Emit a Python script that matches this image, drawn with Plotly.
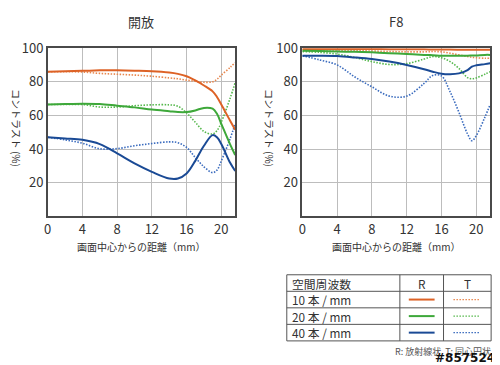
import plotly.graph_objects as go

# ---- data ----
dist = [0, 2, 4, 6, 8, 10, 12, 14, 15, 16, 17, 18, 19, 19.5, 20, 21, 21.6]

open_10R = [86, 86.3, 86.5, 86.8, 86.8, 86.6, 86.3, 85.5, 84.7, 83.3, 80.8, 77.8, 74.3, 71, 66.5, 57, 51.5]
open_10T = [86, 86, 85.8, 85, 84.5, 84, 83.3, 82.3, 81.8, 81, 80.3, 79.7, 80, 81.5, 84, 88.5, 91.5]
open_20R = [66.5, 66.8, 67, 66.8, 65.8, 64.8, 63.5, 62.5, 62, 62, 63, 64.5, 64, 61, 55, 43, 36.5]
open_20T = [66.5, 66.5, 66.5, 65, 65, 65.8, 66.3, 66.3, 65.5, 61.5, 56, 50.5, 49, 51, 56, 70, 79.5]
open_40R = [47, 46.3, 45.5, 43, 37.5, 31.5, 26.5, 22.5, 22.5, 25.5, 33, 42, 48.3, 47, 43, 32, 27]
open_40T = [47, 45.5, 43.5, 40.2, 40.3, 42, 43.3, 44.3, 43.8, 41, 35, 29.5, 26, 27.5, 33, 46, 55]

f8_10R = [99.5, 99.5, 99.5, 99.5, 99.5, 99.4, 99.3, 99.3, 99.2, 99.2, 99.2, 99.1, 99, 99, 99, 99, 99]
f8_10T = [99, 99, 98.8, 98.5, 98.3, 98, 97.8, 97.8, 98, 97.8, 97, 96, 95, 94.6, 94.3, 94, 94]
f8_20R = [98.5, 98.3, 98, 97.8, 97.5, 97, 96.5, 96, 95.8, 95.5, 95.5, 95.5, 95.5, 95.6, 95.7, 96, 96]
f8_20T = [98, 97.5, 96.5, 94.5, 92, 90.3, 90.8, 93.5, 95, 94.3, 92, 88, 82.5, 81.8, 82.3, 84.5, 86]
f8_40R = [95.5, 95.5, 95.3, 94.5, 93.5, 92, 90, 87.5, 86, 84.8, 84.5, 85, 87, 89, 89.8, 90.5, 91]
f8_40T = [95.5, 93, 90, 83, 77, 71.5, 71.5, 79, 83.8, 83.5, 74, 62, 49, 45, 48, 59, 66.5]

panel_titles = ["開放", "F8"]
x_ticks = [0, 4, 8, 12, 16, 20]
y_ticks = [20, 40, 60, 80, 100]
legend_rows = ["10 本 / mm", "20 本 / mm", "40 本 / mm"]

# ---- styles ----
W, H = 500, 365
OFF = 8  # page body margin
FONT = "Noto Sans CJK JP, Noto Sans, sans-serif"
colors_solid = ["#DD6226", "#3EA83A", "#1A4A95"]
colors_dot = ["#E8874E", "#55B84C", "#3A6BBE"]
DOT = "1.5px,1.5px"
TXT = "#333333"

def px(x):
    return (x - OFF) / W

def py(y):
    return 1 - (y - OFF) / H

fig = go.Figure()

panels = [
    ("x", "y", [open_10R, open_20R, open_40R], [open_10T, open_20T, open_40T]),
    ("x2", "y2", [f8_10R, f8_20R, f8_40R], [f8_10T, f8_20T, f8_40T]),
]
for xa, ya, rs, ts in panels:
    for i in range(3):
        fig.add_trace(go.Scatter(x=dist, y=ts[i], xaxis=xa, yaxis=ya, mode="lines",
                                 line=dict(color=colors_dot[i], width=1.6, dash=DOT, shape="spline"),
                                 showlegend=False, hoverinfo="skip"))
    for i in range(3):
        fig.add_trace(go.Scatter(x=dist, y=rs[i], xaxis=xa, yaxis=ya, mode="lines",
                                 line=dict(color=colors_solid[i], width=2, shape="spline"),
                                 showlegend=False, hoverinfo="skip"))

plot_left = [44, 300.7]
plot_right = [233, 490]
top, bottom = 39, 212

axis_common = dict(showgrid=True, gridcolor="#BDBDBD", gridwidth=1, showline=True, mirror=True,
                   linecolor="#4A4A4A", linewidth=1.5, zeroline=False, ticks="",
                   tickfont=dict(family=FONT, size=13, color=TXT))

layout = dict(width=W, height=H, margin=dict(l=0, r=0, t=0, b=0),
              paper_bgcolor="white", plot_bgcolor="white", showlegend=False)
for k in range(2):
    sx = "" if k == 0 else "2"
    layout["xaxis" + sx] = dict(axis_common, domain=[px(plot_left[k]), px(plot_right[k])],
                                range=[0, 21.6], tickvals=x_ticks, anchor="y" + sx)
    layout["yaxis" + sx] = dict(axis_common, domain=[py(bottom), py(top)],
                                range=[0, 100], tickvals=y_ticks, anchor="x" + sx)
fig.update_layout(**layout)

ann = []
shapes = []

def text(x, y, s, size=13, color=TXT, xanchor="center", angle=0, family=FONT):
    ann.append(dict(x=px(x), y=py(y), xref="paper", yref="paper", text=s, showarrow=False,
                    xanchor=xanchor, yanchor="middle", textangle=angle, borderpad=0,
                    font=dict(family=family, size=size, color=color)))

for k in range(2):
    cx = (plot_left[k] + plot_right[k]) / 2
    text(cx, 12, panel_titles[k], size=13)
    text(cx, 243, "画面中心からの距離（mm）", size=10)
    text([12, 267][k], 121, "コントラスト (%)", size=10, angle=90)

# legend table
tl, tr, tt, tb = 285, 491, 272, 340
row_lines = [289, 306, 323]
col_lines = [399, 443]
LC = "#555555"
shapes.append(dict(type="rect", xref="paper", yref="paper", x0=px(tl), x1=px(tr), y0=py(tb), y1=py(tt),
                   line=dict(color=LC, width=1)))
for r in row_lines:
    shapes.append(dict(type="line", xref="paper", yref="paper", x0=px(tl), x1=px(tr), y0=py(r), y1=py(r),
                       line=dict(color=LC, width=1)))
for c in col_lines:
    shapes.append(dict(type="line", xref="paper", yref="paper", x0=px(c), x1=px(c), y0=py(tt), y1=py(tb),
                       line=dict(color=LC, width=1)))
TS = 11.8
text(289, 280.5, "空間周波数", size=TS, xanchor="left")
text(421, 280.5, "R", size=TS)
text(467, 280.5, "T", size=TS)
row_centers = [297.5, 314.5, 331.5]
for i, lab in enumerate(legend_rows):
    yc = row_centers[i]
    text(289, yc, lab, size=TS, xanchor="left")
    shapes.append(dict(type="line", xref="paper", yref="paper", x0=px(408), x1=px(434), y0=py(yc), y1=py(yc),
                       line=dict(color=colors_solid[i], width=2)))
    shapes.append(dict(type="line", xref="paper", yref="paper", x0=px(453), x1=px(480), y0=py(yc), y1=py(yc),
                       line=dict(color=colors_dot[i], width=1.2, dash=DOT)))

text(492, 351, "R: 放射線状  T: 同心円状", size=9, color="#555555", xanchor="right")
text(496, 358, "<b>#857524</b>", size=12, color="#111111", xanchor="right", family="DejaVu Sans")

fig.update_layout(annotations=ann, shapes=shapes)
fig.write_html("out.html")
